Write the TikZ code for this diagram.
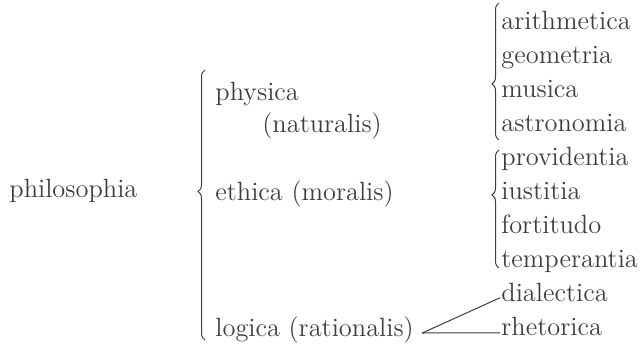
\documentclass[tikz,border=0pt]{standalone}
\usepackage{tikz}
\usetikzlibrary{decorations.pathreplacing}
\definecolor{inkgrey}{RGB}{62,62,62}
\tikzset{
  term/.style={anchor=base west, inner sep=0pt, text=inkgrey, font=\fontsize{13.2}{16}\selectfont},
  brc/.style={decorate, decoration={brace, amplitude=3.5pt, aspect=#1}, draw=inkgrey, line width=0.5pt},
  link/.style={draw=inkgrey, line width=0.5pt},
}
\begin{document}
\begin{tikzpicture}[x=0.5pt,y=-0.5pt]
  \useasboundingbox (0,0) rectangle (643,348);
  \node[term] (phil) at (9,197) {philosophia};
  \node[term] (phys) at (215,100) {physica};
  \node[term] (nat) at (262,132) {(naturalis)};
  \node[term] (eth) at (215,200) {ethica (moralis)};
  \node[term] (logi) at (215,336) {logica (rationalis)};
  \foreach \i/\t/\n in {0/arithmetica/ar, 1/geometria/ge, 2/musica/mu, 3/astronomia/as,
                        4/providentia/pr, 5/iustitia/iu, 6/fortitudo/fo, 7/temperantia/te,
                        8/dialectica/di, 9/rhetorica/rh}{
    \node[term] (\n) at (501,{29+34.1*\i}) {\t};
  }
  % braces
  \draw[brc=0.55] (205,340) -- (205,70);
  \draw[brc=0.41] (499,140) -- (499,3);
  \draw[brc=0.62] (499,268) -- (499,150);
  % logica branches
  \draw[link] ([xshift=4pt,yshift=1.5pt]logi.base east) coordinate (apex) -- ([xshift=-0.5pt,yshift=2pt]di.base west);
  \draw[link] (apex) -- ([xshift=-0.5pt,yshift=1.5pt]rh.base west);
\end{tikzpicture}
\end{document}
